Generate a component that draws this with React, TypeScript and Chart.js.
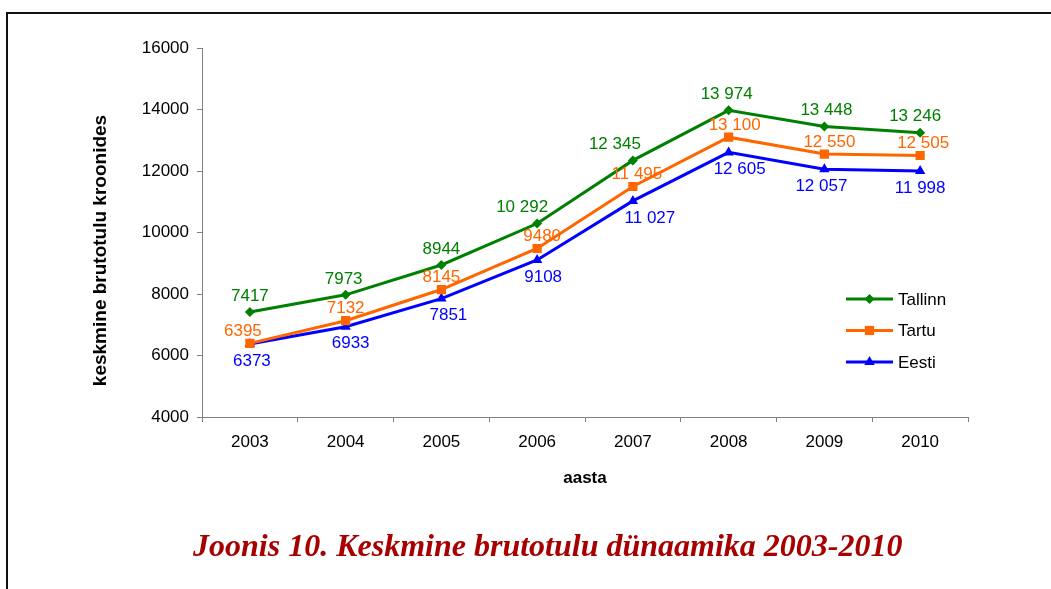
import React, { useEffect, useRef } from "react";
import { Chart, registerables } from "chart.js";

Chart.register(...registerables);

const years = ["2003", "2004", "2005", "2006", "2007", "2008", "2009", "2010"];
const tallinn = [7417, 7973, 8944, 10292, 12345, 13974, 13448, 13246];
const tartu = [6395, 7132, 8145, 9480, 11495, 13100, 12550, 12505];
const eesti = [6373, 6933, 7851, 9108, 11027, 12605, 12057, 11998];
const seriesNames = ["Tallinn", "Tartu", "Eesti"];

const yAxisTitle = "keskmine brutotulu kroonides";
const xAxisTitle = "aasta";
const figureTitle = "Joonis 10. Keskmine brutotulu dünaamika 2003-2010";

const SANS = '"Liberation Sans", Arial, sans-serif';
const COLORS = ["#008000", "#FF6600", "#0000FF"];
const POINT_STYLES = ["rectRot", "rect", "triangle"];
const POINT_RADII = [5, 6.5, 6];
// label placement relative to each point (style, not data)
const LABEL_DY = [-16, -12, 17];
const LABEL_DX = [
  [0, -2, 0, -15, -18, -2, 2, -5],
  [-7, 0, 0, 5, 4, 6, 5, 3],
  [2, 5, 7, 6, 17, 11, -3, 0],
];

const fmt = (n: number) =>
  n >= 10000 ? `${Math.floor(n / 1000)} ${String(n % 1000).padStart(3, "0")}` : String(n);

function drawMarker(ctx: CanvasRenderingContext2D, style: string, x: number, y: number, r: number, color: string) {
  ctx.save();
  ctx.fillStyle = color;
  ctx.beginPath();
  if (style === "rectRot") {
    ctx.moveTo(x, y - r);
    ctx.lineTo(x + r, y);
    ctx.lineTo(x, y + r);
    ctx.lineTo(x - r, y);
  } else if (style === "rect") {
    const s = r / Math.SQRT2;
    ctx.rect(x - s, y - s, 2 * s, 2 * s);
  } else {
    const h = r * 1.5;
    const half = (r * Math.sqrt(3)) / 2;
    ctx.moveTo(x, y - r);
    ctx.lineTo(x + half, y + h - r);
    ctx.lineTo(x - half, y + h - r);
  }
  ctx.closePath();
  ctx.fill();
  ctx.restore();
}

const pointLabelPlugin = {
  id: "pointLabels",
  afterDatasetsDraw(chart: any) {
    const ctx = chart.ctx as CanvasRenderingContext2D;
    chart.data.datasets.forEach((ds: any, i: number) => {
      const meta = chart.getDatasetMeta(i);
      ctx.save();
      ctx.font = `17px ${SANS}`;
      ctx.fillStyle = COLORS[i];
      ctx.textAlign = "center";
      ctx.textBaseline = "middle";
      meta.data.forEach((pt: any, j: number) => {
        ctx.fillText(fmt(ds.data[j]), pt.x + LABEL_DX[i][j], pt.y + LABEL_DY[i]);
      });
      ctx.restore();
    });
  },
};

const yTitlePlugin = {
  id: "yTitle",
  afterDraw(chart: any) {
    const ctx = chart.ctx as CanvasRenderingContext2D;
    const area = chart.chartArea;
    ctx.save();
    ctx.translate(area.left - 101, (area.top + area.bottom) / 2 + 18);
    ctx.rotate(-Math.PI / 2);
    ctx.font = `bold 19px ${SANS}`;
    ctx.fillStyle = "#000";
    ctx.textAlign = "center";
    ctx.textBaseline = "middle";
    ctx.fillText(yAxisTitle, 0, 0);
    ctx.restore();
  },
};

const legendPlugin = {
  id: "lineLegend",
  afterDraw(chart: any) {
    const ctx = chart.ctx as CanvasRenderingContext2D;
    const area = chart.chartArea;
    const x0 = area.right - 122;
    const y0 = area.top + 251;
    chart.data.datasets.forEach((ds: any, i: number) => {
      const y = y0 + i * 31.5;
      ctx.save();
      ctx.strokeStyle = COLORS[i];
      ctx.lineWidth = 3;
      ctx.beginPath();
      ctx.moveTo(x0, y);
      ctx.lineTo(x0 + 47, y);
      ctx.stroke();
      ctx.restore();
      drawMarker(ctx, POINT_STYLES[i], x0 + 23.5, y, POINT_RADII[i], COLORS[i]);
      ctx.save();
      ctx.font = `17px ${SANS}`;
      ctx.fillStyle = "#000";
      ctx.textAlign = "left";
      ctx.textBaseline = "middle";
      ctx.fillText(ds.label, x0 + 52, y + 1);
      ctx.restore();
    });
  },
};

export default function App() {
  const canvasRef = useRef<HTMLCanvasElement | null>(null);

  useEffect(() => {
    if (!canvasRef.current) return;
    const seriesData = [tallinn, tartu, eesti];
    const chart = new Chart(canvasRef.current, {
      type: "line",
      data: {
        labels: years,
        datasets: seriesData.map((d, i) => ({
          label: seriesNames[i],
          data: d,
          borderColor: COLORS[i],
          backgroundColor: COLORS[i],
          borderWidth: 3,
          pointStyle: POINT_STYLES[i] as any,
          pointRadius: POINT_RADII[i],
          pointBorderWidth: 0,
          pointBackgroundColor: COLORS[i],
          tension: 0,
          fill: false,
        })),
      },
      options: {
        responsive: false,
        animation: false,
        devicePixelRatio: 1,
        layout: { padding: { left: 90, right: 83, top: 48, bottom: 97 } },
        plugins: {
          legend: { display: false },
          tooltip: { enabled: false },
          title: { display: false },
        },
        scales: {
          x: {
            offset: true,
            grid: {
              offset: true,
              drawOnChartArea: false,
              drawTicks: true,
              tickLength: 5,
              color: "#808080",
            },
            border: { color: "#808080", width: 1 },
            ticks: { color: "#000", font: { family: SANS, size: 17 }, padding: 10, maxRotation: 0 },
            title: {
              display: true,
              text: xAxisTitle,
              color: "#000",
              font: { family: SANS, size: 17, weight: "bold" },
              padding: { top: 0, bottom: 3 },
            },
            afterFit: (scale: any) => {
              scale.height = 75;
            },
          },
          y: {
            min: 4000,
            max: 16000,
            grid: {
              drawOnChartArea: false,
              drawTicks: true,
              tickLength: 5,
              color: "#808080",
            },
            border: { color: "#808080", width: 1 },
            ticks: {
              stepSize: 2000,
              color: "#000",
              font: { family: SANS, size: 17 },
              padding: 8,
              callback: (v: any) => String(v),
            },
            title: { display: false },
            afterFit: (scale: any) => {
              scale.width = 112;
            },
          },
        },
      },
      plugins: [pointLabelPlugin, yTitlePlugin, legendPlugin],
    });
    return () => chart.destroy();
  }, []);

  return (
    <div
      style={{
        position: "fixed",
        left: 0,
        top: 0,
        width: 1051,
        height: 589,
        overflow: "hidden",
        background: "#fff",
      }}
    >
      <div
        style={{
          position: "absolute",
          left: 6,
          top: 12,
          width: 1200,
          height: 800,
          borderTop: "2px solid #111",
          borderLeft: "2px solid #111",
        }}
      />
      <canvas ref={canvasRef} width={1051} height={589} style={{ position: "absolute", left: 0, top: 0 }} />
      <div
        style={{
          position: "absolute",
          left: 193,
          top: 529,
          fontFamily: '"Liberation Serif", "Times New Roman", serif',
          fontWeight: "bold",
          fontStyle: "italic",
          fontSize: 32,
          lineHeight: "32px",
          color: "#A80000",
          whiteSpace: "nowrap",
        }}
      >
        {figureTitle}
      </div>
    </div>
  );
}
